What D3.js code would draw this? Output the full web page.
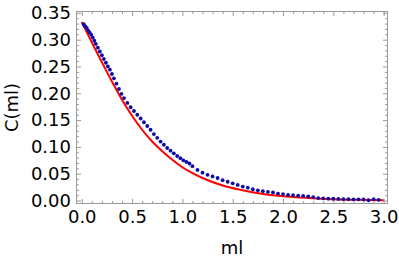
<!DOCTYPE html>
<html>
<head>
<meta charset="utf-8">
<script src="https://cdn.jsdelivr.net/npm/d3@7/dist/d3.min.js"></script>
<style>
html,body{margin:0;padding:0;background:#fff;}
svg{display:block;}
text{font-family:"DejaVu Sans",sans-serif;}
</style>
</head>
<body>
<svg id="chart" width="399" height="263"></svg>
<script>
// Red curve
const curveX = [0, 0.1, 0.2, 0.3, 0.4, 0.5, 0.6, 0.7, 0.8, 0.9, 1.0, 1.1, 1.2, 1.4, 1.6, 1.8, 2.0, 2.25, 2.5, 2.75, 3.0];
const curveY = [0.333, 0.295, 0.258, 0.222, 0.188, 0.158, 0.132, 0.110, 0.092, 0.076, 0.062, 0.051, 0.042, 0.028, 0.019, 0.012, 0.008, 0.0048, 0.0025, 0.0012, 0.0005];

// Blue data points
const pointX = [0.02, 0.035, 0.05, 0.065, 0.08, 0.095, 0.11, 0.125, 0.14, 0.16, 0.18, 0.20, 0.22, 0.24, 0.26, 0.28, 0.30, 0.32, 0.345, 0.37, 0.395,
  0.42, 0.453, 0.486, 0.519, 0.552, 0.585, 0.618, 0.651, 0.684, 0.717, 0.75, 0.783, 0.816, 0.849, 0.882, 0.915, 0.948, 0.98, 1.01, 1.04, 1.07, 1.10,
  1.15, 1.20, 1.25, 1.30, 1.35, 1.40, 1.45, 1.50, 1.55, 1.60, 1.65, 1.70, 1.75, 1.80, 1.85, 1.90, 1.95, 2.00, 2.05, 2.10, 2.15, 2.20, 2.25, 2.30,
  2.35, 2.40, 2.45, 2.50, 2.55, 2.60, 2.65, 2.70, 2.75, 2.80, 2.85, 2.90, 2.95];
const pointY = [0.329, 0.325, 0.322, 0.317, 0.313, 0.309, 0.304, 0.298, 0.292, 0.285, 0.278, 0.271, 0.264, 0.257, 0.250, 0.244, 0.236, 0.228, 0.218, 0.208, 0.199,
  0.191, 0.182, 0.174, 0.167, 0.160, 0.153, 0.146, 0.139, 0.132, 0.124, 0.117, 0.110, 0.104, 0.098, 0.093, 0.088, 0.083, 0.079, 0.075, 0.072, 0.069, 0.064,
  0.057, 0.052, 0.048, 0.045, 0.042, 0.038, 0.035, 0.032, 0.029, 0.026, 0.024, 0.021, 0.019, 0.0175, 0.016, 0.015, 0.013, 0.012, 0.0105, 0.010, 0.009, 0.0085, 0.0075, 0.0065,
  0.0045, 0.004, 0.0035, 0.0033, 0.003, 0.0025, 0.0025, 0.0023, 0.0023, 0.002, 0.0005, 0.0025, 0.0012];

const xMajor = [0, 0.5, 1.0, 1.5, 2.0, 2.5, 3.0];
const yMajor = [0, 0.05, 0.10, 0.15, 0.20, 0.25, 0.30, 0.35];
const xLabel = "ml";
const yLabel = "C(ml)";

const L = 76, R = 388, T = 11, B = 204;
const x = d3.scaleLinear().domain([-0.057, 3.043]).range([L, R]);
const y = d3.scaleLinear().domain([-0.0065, 0.3535]).range([B, T]);

const svg = d3.select("#chart");
const frameColor = "#9a9a9a";

// minor ticks
const xMinor = d3.range(0, 31).map(i => i / 10).filter(v => !xMajor.some(m => Math.abs(m - v) < 1e-9));
const yMinor = d3.range(0, 36).map(i => i / 100).filter(v => !yMajor.some(m => Math.abs(m - v) < 1e-9));

function ticksG(axisFn, scale, vals, len, transform) {
  const g = svg.append("g").attr("transform", transform)
    .call(axisFn(scale).tickValues(vals).tickSize(len).tickFormat(""));
  g.select(".domain").remove();
  g.selectAll("line").attr("stroke", frameColor).attr("stroke-width", 1);
  return g;
}
// bottom (ticks pointing up = inward)
ticksG(d3.axisBottom, x, xMajor, -5, `translate(0,${B})`);
ticksG(d3.axisBottom, x, xMinor, -3, `translate(0,${B})`);
// top (ticks pointing down)
ticksG(d3.axisTop, x, xMajor, -5, `translate(0,${T})`);
ticksG(d3.axisTop, x, xMinor, -3, `translate(0,${T})`);
// left
ticksG(d3.axisLeft, y, yMajor, -5, `translate(${L},0)`);
ticksG(d3.axisLeft, y, yMinor, -3, `translate(${L},0)`);
// right
ticksG(d3.axisRight, y, yMajor, -5, `translate(${R},0)`);
ticksG(d3.axisRight, y, yMinor, -3, `translate(${R},0)`);

// labels
const xa = svg.append("g").attr("transform", `translate(0,${B})`)
  .call(d3.axisBottom(x).tickValues(xMajor).tickSize(0).tickPadding(6).tickFormat(d3.format(".1f")));
xa.select(".domain").remove();
xa.selectAll("text").attr("font-size", 18).attr("fill", "#000").attr("font-family", "DejaVu Sans");
const ya = svg.append("g").attr("transform", `translate(${L},0)`)
  .call(d3.axisLeft(y).tickValues(yMajor).tickSize(0).tickPadding(5).tickFormat(d3.format(".2f")));
ya.select(".domain").remove();
ya.selectAll("text").attr("font-size", 18).attr("fill", "#000").attr("font-family", "DejaVu Sans");

// frame
svg.append("rect").attr("x", L + 0.5).attr("y", T + 0.5).attr("width", R - L - 1).attr("height", B - T - 1)
  .attr("fill", "none").attr("stroke", frameColor).attr("stroke-width", 1);

// red curve
const curveData = curveX.map((v, i) => [v, curveY[i]]);
svg.append("path").datum(curveData)
  .attr("fill", "none").attr("stroke", "#ff0000").attr("stroke-width", 2)
  .attr("d", d3.line().x(d => x(d[0])).y(d => y(d[1])).curve(d3.curveMonotoneX));

// points
const pts = pointX.map((v, i) => [v, pointY[i]]);
svg.append("g").selectAll("circle").data(pts).join("circle")
  .attr("cx", d => x(d[0])).attr("cy", d => y(d[1])).attr("r", 1.9)
  .attr("fill", "#0c0ca6");

// axis titles
svg.append("text").attr("x", (L + R) / 2).attr("y", 254).attr("text-anchor", "middle")
  .attr("font-size", 18).attr("fill", "#000").text(xLabel);
svg.append("text").attr("transform", `translate(18,${(T + B) / 2}) rotate(-90)`).attr("text-anchor", "middle")
  .attr("font-size", 18).attr("fill", "#000").text(yLabel);
</script>
</body>
</html>
